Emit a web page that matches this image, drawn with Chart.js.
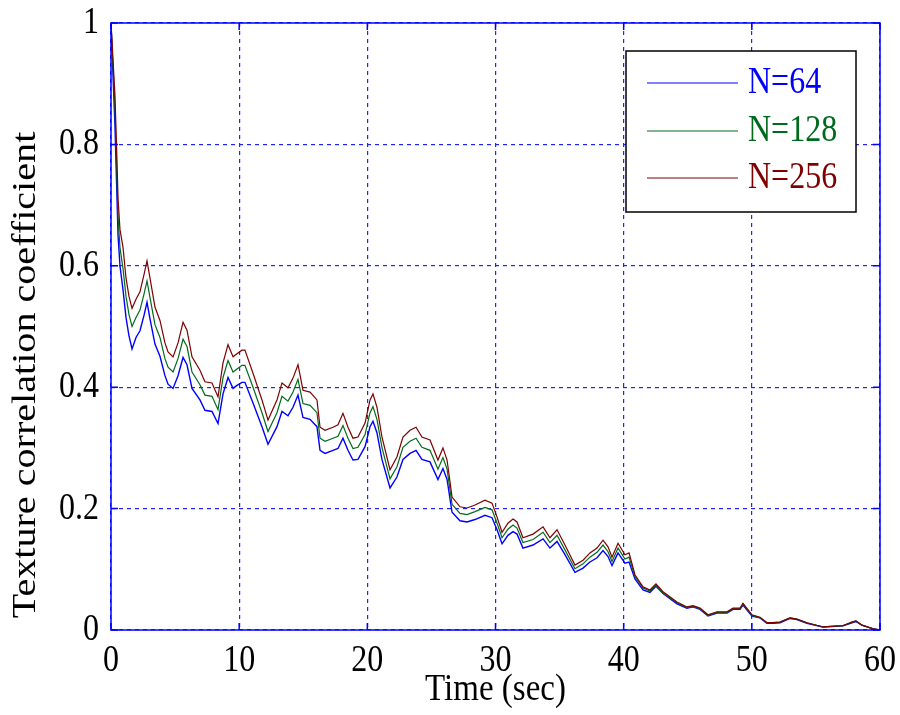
<!DOCTYPE html>
<html>
<head>
<meta charset="utf-8">
<script src="https://cdn.jsdelivr.net/npm/chart.js@4.4.1/dist/chart.umd.min.js"></script>
<style>
  html, body { margin: 0; padding: 0; background: #fff; }
</style>
</head>
<body>
<canvas id="chart" width="900" height="715"></canvas>
<script>
(function () {
  // values
  const timeSec = [
    0, 0.31, 0.47, 0.55, 0.70, 0.94, 1.17, 1.40, 1.64, 1.95,
    2.26, 2.57, 2.81, 3.04, 3.43, 3.82, 4.21, 4.45, 4.84, 5.23,
    5.62, 5.93, 6.32, 6.94, 7.33, 7.88, 8.35, 8.74, 9.13, 9.52,
    9.83, 10.22, 10.45, 11.08, 11.78, 12.25, 12.95, 13.34, 13.81, 14.20,
    14.59, 14.98, 15.53, 16.07, 16.31, 16.70, 17.32, 17.71, 18.10, 18.49,
    18.88, 19.27, 19.82, 20.21, 20.44, 20.75, 21.14, 21.77, 22.31, 22.78,
    23.33, 23.80, 24.26, 24.89, 25.51, 25.90, 26.22, 26.61, 27.23, 27.78,
    28.40, 29.18, 29.73, 30.12, 30.51, 30.97, 31.37, 31.68, 32.14, 32.93,
    33.71, 34.25, 34.80, 35.42, 36.20, 36.83, 37.37, 37.92, 38.39, 38.78,
    39.09, 39.56, 40.10, 40.42, 40.88, 41.51, 42.05, 42.52, 43.07, 44.16,
    44.94, 45.41, 45.96, 46.58, 47.28, 48.06, 48.53, 49.08, 49.31, 50.01,
    50.64, 51.18, 51.65, 52.20, 52.98, 53.52, 54.30, 55.55, 57.11, 57.81,
    58.12, 58.59, 59.45, 60
  ];
  const n64 = [
    1, 0.83, 0.71, 0.65, 0.60, 0.56, 0.515, 0.485, 0.463, 0.482,
    0.493, 0.518, 0.54, 0.513, 0.471, 0.451, 0.419, 0.405, 0.398, 0.419,
    0.449, 0.437, 0.398, 0.379, 0.362, 0.36, 0.34, 0.389, 0.416, 0.398,
    0.403, 0.408, 0.408, 0.374, 0.335, 0.306, 0.335, 0.36, 0.353, 0.367,
    0.387, 0.35, 0.347, 0.335, 0.296, 0.291, 0.296, 0.299, 0.316, 0.296,
    0.28, 0.281, 0.302, 0.335, 0.344, 0.325, 0.281, 0.234, 0.252, 0.281,
    0.291, 0.296, 0.281, 0.277, 0.248, 0.266, 0.248, 0.194, 0.18, 0.178,
    0.182, 0.189, 0.185, 0.165, 0.142, 0.156, 0.162, 0.158, 0.135, 0.14,
    0.15, 0.135, 0.146, 0.124, 0.095, 0.102, 0.112, 0.119, 0.131, 0.121,
    0.106, 0.127, 0.11, 0.112, 0.084, 0.066, 0.062, 0.072, 0.06, 0.043,
    0.036, 0.038, 0.034, 0.023, 0.028, 0.028, 0.034, 0.034, 0.041, 0.023,
    0.02, 0.011, 0.011, 0.012, 0.019, 0.017, 0.011, 0.005, 0.007, 0.012,
    0.014, 0.008, 0.002, 0
  ];
  const n128 = [
    1, 0.86, 0.74, 0.68, 0.63, 0.595, 0.55, 0.52, 0.50, 0.515,
    0.527, 0.553, 0.575, 0.548, 0.503, 0.482, 0.447, 0.433, 0.425, 0.447,
    0.479, 0.467, 0.425, 0.404, 0.387, 0.385, 0.363, 0.416, 0.444, 0.425,
    0.43, 0.436, 0.436, 0.40, 0.358, 0.327, 0.358, 0.385, 0.377, 0.392,
    0.413, 0.373, 0.37, 0.358, 0.316, 0.311, 0.316, 0.319, 0.337, 0.316,
    0.299, 0.301, 0.322, 0.358, 0.368, 0.347, 0.301, 0.249, 0.269, 0.301,
    0.311, 0.316, 0.301, 0.296, 0.265, 0.284, 0.265, 0.207, 0.192, 0.19,
    0.195, 0.202, 0.198, 0.176, 0.152, 0.166, 0.173, 0.168, 0.144, 0.149,
    0.161, 0.144, 0.156, 0.132, 0.101, 0.109, 0.12, 0.128, 0.14, 0.129,
    0.113, 0.135, 0.117, 0.12, 0.088, 0.069, 0.064, 0.074, 0.061, 0.045,
    0.037, 0.039, 0.035, 0.024, 0.029, 0.029, 0.035, 0.035, 0.043, 0.024,
    0.02, 0.012, 0.012, 0.013, 0.02, 0.018, 0.012, 0.005, 0.007, 0.013,
    0.015, 0.008, 0.002, 0
  ];
  const n256 = [
    1, 0.88, 0.77, 0.71, 0.66, 0.63, 0.58, 0.55, 0.53, 0.545,
    0.557, 0.585, 0.608, 0.58, 0.532, 0.51, 0.473, 0.458, 0.45, 0.473,
    0.507, 0.494, 0.45, 0.428, 0.409, 0.407, 0.384, 0.44, 0.47, 0.45,
    0.455, 0.461, 0.461, 0.423, 0.379, 0.346, 0.379, 0.407, 0.399, 0.415,
    0.437, 0.395, 0.392, 0.379, 0.334, 0.329, 0.334, 0.338, 0.357, 0.334,
    0.316, 0.318, 0.341, 0.379, 0.389, 0.367, 0.318, 0.264, 0.285, 0.318,
    0.329, 0.334, 0.318, 0.313, 0.28, 0.30, 0.28, 0.219, 0.203, 0.201,
    0.206, 0.214, 0.209, 0.186, 0.161, 0.176, 0.183, 0.178, 0.152, 0.158,
    0.17, 0.152, 0.165, 0.14, 0.107, 0.115, 0.127, 0.135, 0.148, 0.137,
    0.12, 0.143, 0.124, 0.127, 0.091, 0.071, 0.066, 0.076, 0.063, 0.046,
    0.038, 0.04, 0.036, 0.025, 0.03, 0.03, 0.036, 0.036, 0.044, 0.025,
    0.021, 0.012, 0.012, 0.013, 0.02, 0.018, 0.012, 0.005, 0.007, 0.013,
    0.015, 0.008, 0.002, 0
  ];
  const seriesLabels = ["N=64", "N=128", "N=256"];
  const xTickValues = [0, 10, 20, 30, 40, 50, 60];
  const xTickLabels = ["0", "10", "20", "30", "40", "50", "60"];
  const yTickValues = [0, 0.2, 0.4, 0.6, 0.8, 1];
  const yTickLabels = ["0", "0.2", "0.4", "0.6", "0.8", "1"];
  const xTitle = "Time (sec)";
  const yTitle = "Texture correlation coefficient";

  const lineColors = ["#0000ff", "#006a1c", "#7f0000"];
  const FONT = '"Liberation Serif", "Times New Roman", serif';
  const STRETCH = 1.18; // the figure's text is a bit taller than wide

  function pts(ys) {
    return timeSec.map((t, i) => ({ x: t, y: ys[i] }));
  }

  function drawText(ctx, txt, x, y, size, align, color, rot) {
    ctx.save();
    ctx.translate(x, y);
    ctx.scale(1, STRETCH);
    if (rot) ctx.rotate(rot);
    ctx.font = size + "px " + FONT;
    ctx.fillStyle = color;
    ctx.textAlign = align;
    ctx.textBaseline = "middle";
    ctx.fillText(txt, 0, 0);
    ctx.restore();
  }

  const matlabFrame = {
    id: "matlabFrame",
    afterDraw(chart) {
      const ctx = chart.ctx;
      const a = chart.chartArea;
      const xs = chart.scales.x, ys = chart.scales.y;

      // axes box + inward ticks
      ctx.save();
      ctx.strokeStyle = "#0000ff";
      ctx.lineWidth = 1.5;
      ctx.strokeRect(a.left, a.top, a.right - a.left, a.bottom - a.top);
      ctx.beginPath();
      xTickValues.forEach((v) => {
        const px = xs.getPixelForValue(v);
        ctx.moveTo(px, a.bottom); ctx.lineTo(px, a.bottom - 7);
        ctx.moveTo(px, a.top); ctx.lineTo(px, a.top + 7);
      });
      yTickValues.forEach((v) => {
        const py = ys.getPixelForValue(v);
        ctx.moveTo(a.left, py); ctx.lineTo(a.left + 7, py);
        ctx.moveTo(a.right, py); ctx.lineTo(a.right - 7, py);
      });
      ctx.stroke();
      ctx.restore();

      // tick labels
      xTickValues.forEach((v, i) => {
        drawText(ctx, xTickLabels[i], xs.getPixelForValue(v), a.bottom + 31, 32, "center", "#000");
      });
      yTickValues.forEach((v, i) => {
        drawText(ctx, yTickLabels[i], a.left - 12, ys.getPixelForValue(v), 32, "right", "#000");
      });

      // axis titles
      drawText(ctx, xTitle, (a.left + a.right) / 2, 690, 33, "center", "#000");
      drawText(ctx, yTitle, 26, 375, 34, "center", "#000", -Math.PI / 2);

      // legend box
      const lx = 626, ly = 51, lw = 230, lh = 161;
      ctx.save();
      ctx.fillStyle = "#fff";
      ctx.fillRect(lx, ly, lw, lh);
      ctx.strokeStyle = "#000";
      ctx.lineWidth = 1.5;
      ctx.strokeRect(lx, ly, lw, lh);
      const rows = [83, 131, 178];
      chart.data.datasets.forEach((ds, i) => {
        ctx.strokeStyle = ds.borderColor;
        ctx.lineWidth = 1.2;
        ctx.beginPath();
        ctx.moveTo(647, rows[i]);
        ctx.lineTo(738, rows[i]);
        ctx.stroke();
        drawText(ctx, ds.label, 748, rows[i], 32, "left", ds.borderColor);
      });
      ctx.restore();
    },
  };

  const datasets = [n64, n128, n256].map((ys, i) => ({
    label: seriesLabels[i],
    data: pts(ys),
    borderColor: lineColors[i],
    borderWidth: i === 0 ? 1.4 : 1.2,
    pointRadius: 0,
    tension: 0,
    fill: false,
    order: 2 - i,
  }));

  new Chart(document.getElementById("chart"), {
    type: "line",
    data: { datasets },
    options: {
      responsive: false,
      animation: false,
      layout: { padding: { top: 23, right: 20, left: 0, bottom: 0 } },
      plugins: { legend: { display: false }, tooltip: { enabled: false } },
      scales: {
        x: {
          type: "linear",
          min: 0,
          max: 60,
          ticks: { display: false, stepSize: 10 },
          grid: { color: "#2222ff", lineWidth: 1.2, drawTicks: false },
          border: { display: false, dash: [4, 4] },
          afterFit: (s) => { s.height = 85; },
        },
        y: {
          min: 0,
          max: 1,
          ticks: { display: false, stepSize: 0.2 },
          grid: { color: "#2222ff", lineWidth: 1.2, drawTicks: false },
          border: { display: false, dash: [4, 4] },
          afterFit: (s) => { s.width = 111; },
        },
      },
    },
    plugins: [matlabFrame],
  });
})();
</script>
</body>
</html>
